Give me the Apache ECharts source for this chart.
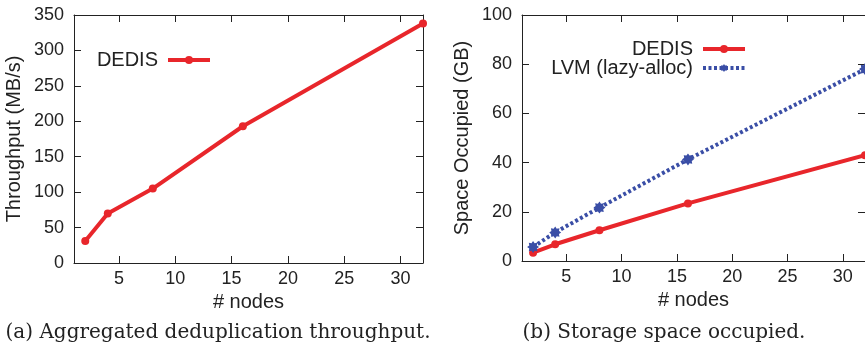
<!DOCTYPE html>
<html>
<head>
<meta charset="utf-8">
<script src="https://cdn.jsdelivr.net/npm/echarts@6/dist/echarts.min.js"></script>
<style>html,body{margin:0;padding:0;background:#fff}#c{width:865px;height:348px}</style>
</head>
<body>
<div id="c"></div>
<script>
// ---- data ----
const nodes = [2, 4, 8, 16, 32];
const throughputDedis = [31, 70, 105, 193, 338];
const spaceDedis = [3.4, 6.8, 12.5, 23.4, 43];
const spaceLvm = [5.7, 11.6, 21.7, 41.3, 78];
const xTicks = [5, 10, 15, 20, 25, 30];
const captionA = '(a) Aggregated deduplication throughput.';
const captionB = '(b) Storage space occupied.';

const pairs = (xs, ys) => xs.map((x, i) => [x, ys[i]]);

const RED = '#e8262b';
const BLUE = '#3a4ea6';
const INK = '#222';
const SANS = '"Liberation Sans", Arial, sans-serif';
const starPath = 'path://M0,-10 L2.6,-6.3 L7.1,-7.1 L6.3,-2.6 L10,0 L6.3,2.6 L7.1,7.1 L2.6,6.3 L0,10 L-2.6,6.3 L-7.1,7.1 L-6.3,2.6 L-10,0 L-6.3,-2.6 L-7.1,-7.1 L-2.6,-6.3 Z';

function xAx(gi, pos, show) {
  return {
    type: 'value', gridIndex: gi, position: pos, min: 1, max: 32,
    axisLine: { show: true, onZero: false, lineStyle: { color: INK, width: 1 } },
    axisTick: { show: true, inside: true, length: 7, customValues: xTicks, lineStyle: { color: INK } },
    axisLabel: { show: show, customValues: xTicks, margin: 7, color: INK, fontSize: 18, fontFamily: SANS },
    splitLine: { show: false },
    name: show ? '# nodes' : '', nameLocation: 'middle', nameGap: 26,
    nameTextStyle: { color: INK, fontSize: 20, fontFamily: SANS }
  };
}
function yAx(gi, pos, show, max, interval, name) {
  return {
    type: 'value', gridIndex: gi, position: pos, min: 0, max: max, interval: interval,
    axisLine: { show: true, onZero: false, lineStyle: { color: INK, width: 1 } },
    axisTick: { show: true, inside: true, length: 7, lineStyle: { color: INK } },
    axisLabel: { show: show, margin: 10, color: INK, fontSize: 18, fontFamily: SANS },
    splitLine: { show: false },
    name: show ? name : '', nameLocation: 'middle', nameGap: 50,
    nameTextStyle: { color: INK, fontSize: 20, fontFamily: SANS }
  };
}
function leg(names, right, top) {
  return {
    data: names, orient: 'vertical', align: 'right', right: right, top: top, padding: 0,
    itemWidth: 42, itemHeight: 10, lineStyle: { width: 4 },
    textStyle: { color: INK, fontSize: 20, fontFamily: SANS, padding: [0, 5, 0, 0] }
  };
}

const chart = echarts.init(document.getElementById('c'), null, { renderer: 'canvas' });
chart.setOption({
  animation: false,
  backgroundColor: '#fff',
  grid: [
    { left: 74, top: 15, width: 349, height: 248 },
    { left: 522, top: 15, width: 344, height: 246 }
  ],
  xAxis: [xAx(0, 'bottom', true), xAx(0, 'top', false), xAx(1, 'bottom', true), xAx(1, 'top', false)],
  yAxis: [yAx(0, 'left', true, 350, 50, 'Throughput (MB/s)'), yAx(0, 'right', false, 350, 50, ''),
          yAx(1, 'left', true, 100, 20, 'Space Occupied (GB)'), yAx(1, 'right', false, 100, 20, '')],
  legend: [
    leg(['DEDIS'], 653, 50),
    leg(['DEDIS'], 118, 39),
    leg(['LVM (lazy-alloc)'], 118, 58)
  ],
  series: [
    { name: 'DEDIS', type: 'line', xAxisIndex: 0, yAxisIndex: 0, data: pairs(nodes, throughputDedis),
      symbol: 'circle', symbolSize: 8, lineStyle: { color: RED, width: 4 }, itemStyle: { color: RED } },
    { name: 'DEDIS', type: 'line', xAxisIndex: 2, yAxisIndex: 2, data: pairs(nodes, spaceDedis),
      symbol: 'circle', symbolSize: 8, lineStyle: { color: RED, width: 4 }, itemStyle: { color: RED } },
    { name: 'LVM (lazy-alloc)', type: 'line', xAxisIndex: 2, yAxisIndex: 2, data: pairs(nodes, spaceLvm),
      symbol: starPath, symbolSize: 12, lineStyle: { color: BLUE, width: 4, type: [3, 2.5] }, itemStyle: { color: BLUE } }
  ],
  graphic: [
    { type: 'text', style: { text: captionA, fill: INK, font: '20px "DejaVu Serif", "Liberation Serif", serif', textAlign: 'center', textVerticalAlign: 'middle', x: 218, y: 333 } },
    { type: 'text', style: { text: captionB, fill: INK, font: '20px "DejaVu Serif", "Liberation Serif", serif', textAlign: 'center', textVerticalAlign: 'middle', x: 664, y: 333 } }
  ]
});
</script>
</body>
</html>
